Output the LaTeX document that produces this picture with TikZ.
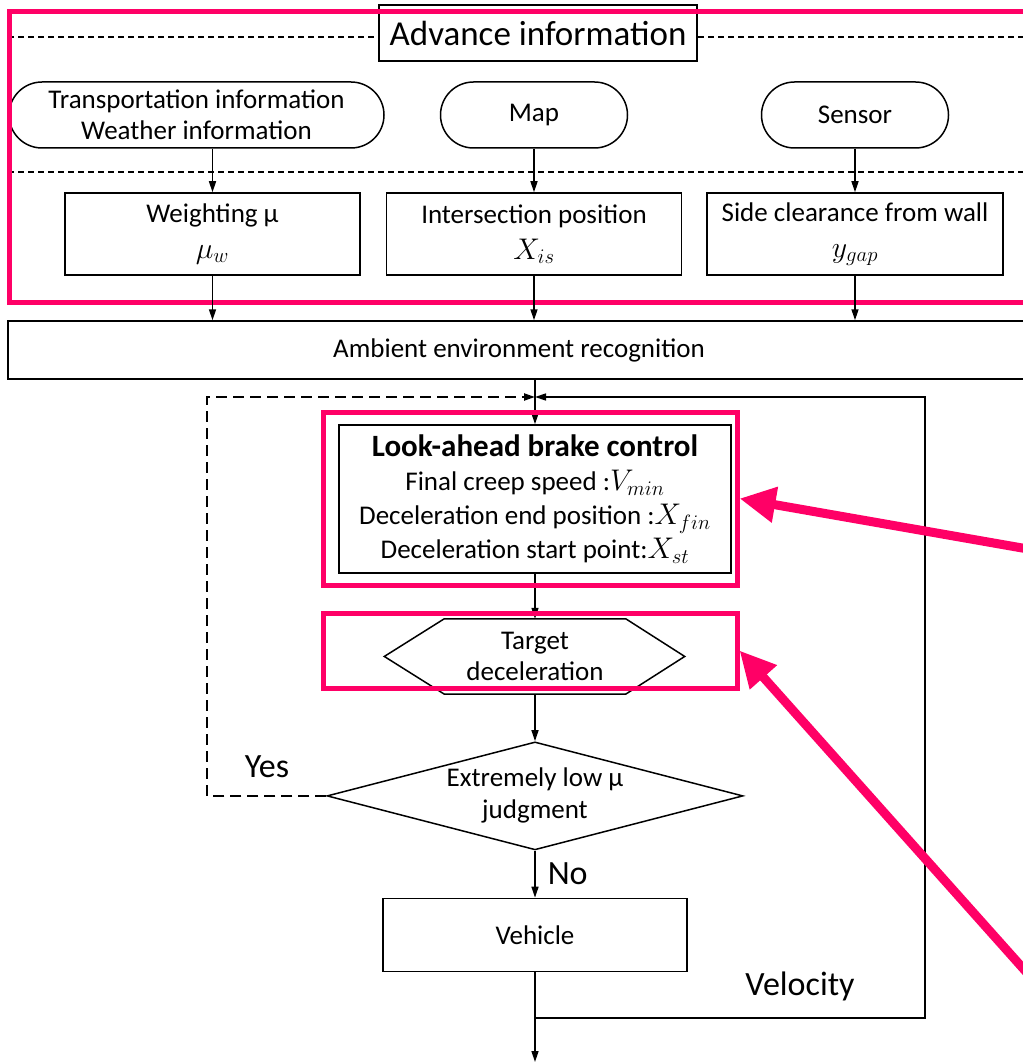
\documentclass[tikz,border=0pt]{standalone}
\usepackage{graphicx}
\usepackage{fontspec}
\setmainfont{Carlito}
\usetikzlibrary{positioning}
\usetikzlibrary{shapes.misc,shapes.geometric}
\usetikzlibrary{arrows.meta}
\definecolor{markpink}{RGB}{255,0,102}
\newcommand{\bigmath}[1]{\scalebox{1.2}{$#1$}}

\begin{document}
\begin{tikzpicture}[x=1pt, y=-1pt, align=center, font=\fontsize{27}{34}\selectfont,
	blk/.style={rectangle,draw=black,line width=1.5pt,fill=white,inner sep=2pt},
	srcnode/.style={rounded rectangle,draw=black,line width=1.5pt,fill=white,minimum height=66pt,inner sep=2pt},
	hexnode/.style={rectangle,minimum width=181pt,minimum height=75pt,inner sep=0pt,font=\fontsize{27}{31}\selectfont},
	arr/.style={-{Triangle[length=11pt,width=7pt]},line width=1.5pt},
	sepline/.style={line width=1.5pt,dash pattern=on 6pt off 4pt},
	loopline/.style={line width=2.2pt,dash pattern=on 11pt off 6pt},
	pinkbox/.style={rectangle,draw=markpink,line width=5pt},
	callout/.style={draw=markpink,line width=9pt,-{Triangle[length=36pt,width=34pt]},markpink},
	lbl/.style={font=\fontsize{34}{40}\selectfont},
	node distance = 45pt]
	\useasboundingbox (0,0) rectangle (1022,1064);

	% advance information
	\draw[sepline] (8,37) -- (1030,37);
	\draw[sepline] (8,172) -- (1030,172);
	\node[blk, font=\fontsize{35}{40}\selectfont, minimum width=318pt, minimum height=56pt] (adv) at (538,33) {Advance information};
	\node[srcnode, minimum width=379pt, font=\fontsize{27}{31}\selectfont] (trans) at (196.5,115) {Transportation information\\Weather information};
	\node[srcnode, minimum width=191pt] (map) at (534,115) {Map};
	\node[srcnode, minimum width=191pt] (sensor) at (855,115) {Sensor};
	\node[blk, minimum width=295pt, minimum height=82pt] (wgt) at (212.5,234) {Weighting µ\\[2pt]\bigmath{\mu_w}};
	\node[blk, minimum width=295pt, minimum height=82pt] (isect) at (534,234) {Intersection position\\[2pt]\bigmath{X_{is}}};
	\node[blk, minimum width=296pt, minimum height=82pt] (clear) at (855,234) {Side clearance from wall\\[2pt]\bigmath{y_{gap}}};
	\draw[pinkbox] (9,12) rectangle (1030,302);
	\draw[arr] (trans.south -| wgt.north) -- (wgt.north);
	\draw[arr] (map.south) -- (isect.north);
	\draw[arr] (sensor.south) -- (clear.north);

	% recognition and control chain
	\node[blk, minimum width=1022pt, minimum height=58pt] (amb) at (519,350) {Ambient environment recognition};
	\draw[arr] (wgt.south) -- (wgt.south |- amb.north);
	\draw[arr] (isect.south) -- (isect.south |- amb.north);
	\draw[arr] (clear.south) -- (clear.south |- amb.north);

	\node[blk, minimum width=392pt, minimum height=148pt] (look) at (535,499) {{\fontsize{31}{34}\selectfont\bfseries Look-ahead brake control}\\Final creep speed :\bigmath{V_{min}}\\Deceleration end position :\bigmath{X_{fin}}\\Deceleration start point:\bigmath{X_{st}}};
	\node[hexnode] (hex) [below = 45pt of look] {Target\\deceleration};
	\draw[line width=1.5pt] (hex.north west) -- (hex.north east) -- ([xshift=59pt]hex.east) -- (hex.south east)
		-- (hex.south west) -- ([xshift=-60pt]hex.west) -- cycle;
	\node[diamond, draw=black, line width=1.5pt, fill=white, minimum width=416pt, minimum height=108pt, inner sep=0pt,
		label={[align=center, font=\fontsize{27}{32}\selectfont]center:Extremely low µ\\judgment}] (judge) [below = 47pt of hex] {};
	\node[blk, minimum width=304pt, minimum height=73pt] (veh) [below = 47pt of judge] {Vehicle};

	\coordinate (merge) at (535,397);
	\coordinate (vel) at (535,1018);
	\coordinate (out) at (535,1062);
	\draw[arr] (amb.south -| merge) -- (look.north);
	\draw[arr] (look.south) -- (hex.north);
	\draw[arr] (hex.south) -- (judge.north);
	\draw[arr] (judge.south) -- node[right, lbl, inner sep=12pt] (nolab) {No} (veh.north);
	\draw[arr] (veh.south) -- (out);
	\draw[arr] (vel) -- ++(390,0) |- (merge);
	\draw[arr, loopline] (judge.west) -- ++(-119,0) |- (merge);
	\node[lbl] (yeslab) at (267,767) {Yes};
	\node[lbl] (vellab) at (800,986) {Velocity};

	% highlight frames
	\node[pinkbox, minimum width=414pt, minimum height=173pt] (lookfr) at (530,498.5) {};
	\node[pinkbox, minimum width=414pt, minimum height=75pt] (hexfr) at (530,650.5) {};
	\coordinate (callA) at (1045,552);
	\coordinate (callB) at (1045,993);
	\draw[callout] (callA) -- (lookfr.east);
	\draw[callout] (callB) -- (hexfr.east);
\end{tikzpicture}
\end{document}
